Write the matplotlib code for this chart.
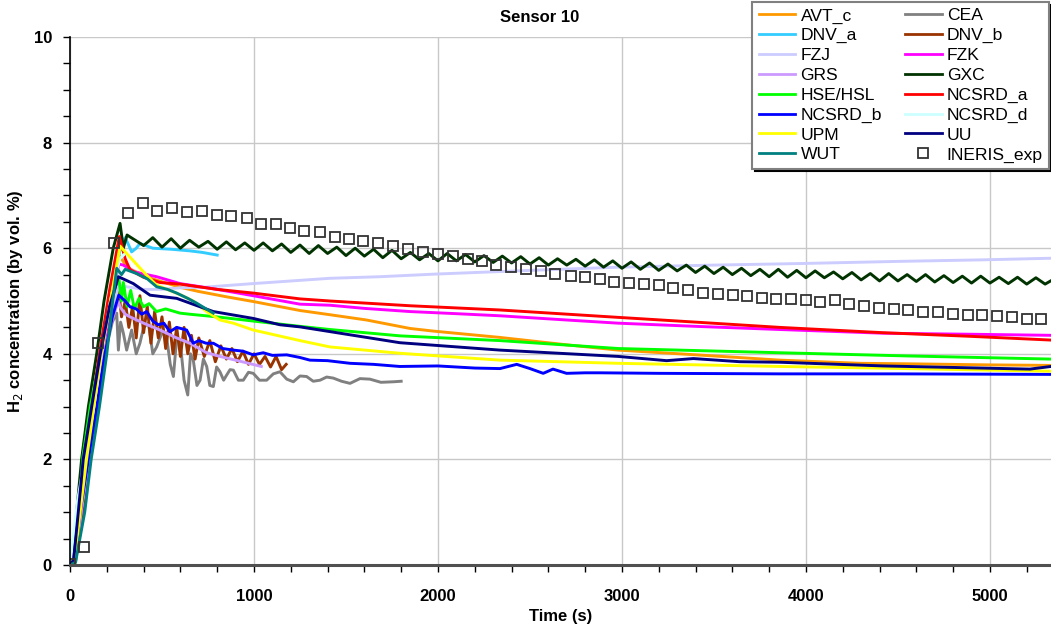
import numpy as np
import matplotlib
matplotlib.use("Agg")
import matplotlib.pyplot as plt
from matplotlib.ticker import MultipleLocator

plt.rcParams['font.family'] = ['Liberation Sans', 'DejaVu Sans']

# ---------------- data ----------------
avt_t = [0, 25, 60, 100, 140, 180, 220, 258, 300, 330, 420, 598, 700, 850, 996, 1250, 1413,
         1612, 1848, 1975, 2337, 2700, 2980, 3406, 3859, 4293, 4565, 5000, 5332]
avt_c = [0, 0.05, 1.0, 2.0, 3.0, 4.0, 5.0, 5.9, 5.7, 5.6, 5.45, 5.26, 5.18, 5.08, 4.99, 4.82, 4.74,
         4.64, 4.48, 4.43, 4.31, 4.17, 4.07, 3.98, 3.88, 3.82, 3.81, 3.79, 3.78]

cea_t = [0, 30, 70, 110, 150, 190, 230, 254, 263, 275, 290, 308, 335, 360, 380, 400, 426, 450, 471, 500,
         525, 545, 562, 580, 598, 620, 640, 655, 670, 690, 707, 725, 743, 760, 779, 797, 815, 835, 852, 870,
         888, 915, 942, 970, 996, 1030, 1069, 1105, 1141, 1178, 1214, 1250, 1286, 1322, 1359, 1395, 1431,
         1476, 1522, 1576, 1630, 1690, 1757, 1800]
cea_c = [0, 0.1, 0.9, 2.0, 3.0, 4.0, 4.6, 4.77, 4.07, 4.6, 4.39, 4.07, 4.45, 4.0, 4.20, 4.5, 4.58, 4.0, 4.13, 4.4,
         4.32, 3.8, 3.57, 4.3, 4.26, 3.5, 3.22, 4.0, 3.88, 3.4, 3.50, 3.9, 3.76, 3.4, 3.38, 3.75, 3.66, 3.5, 3.60, 3.7,
         3.69, 3.5, 3.50, 3.65, 3.63, 3.5, 3.50, 3.62, 3.66, 3.52, 3.47, 3.58, 3.57, 3.48, 3.50, 3.56, 3.54,
         3.48, 3.44, 3.53, 3.52, 3.46, 3.47, 3.48]

dnva_t = [0, 15, 45, 85, 130, 170, 230, 280, 300, 320, 335, 360, 380, 450, 550, 650, 720, 800]
dnva_c = [0, 0.05, 1.0, 2.0, 3.0, 4.0, 5.3, 6.1, 6.2, 6.05, 5.93, 6.0, 6.09, 6.0, 5.98, 5.95, 5.92, 5.87]

dnvb_t = [0, 30, 70, 105, 150, 190, 230, 262, 280, 300, 320, 340, 360, 380, 400, 420, 440, 460, 480, 500,
          520, 540, 560, 580, 600, 620, 640, 660, 680, 700, 730, 760, 790, 820, 850, 880, 910, 940, 970, 1000,
          1030, 1060, 1090, 1120, 1150, 1175]
dnvb_c = [0, 0.1, 1.0, 2.0, 3.1, 4.0, 4.8, 5.3, 4.7, 5.0, 4.5, 4.9, 4.3, 5.1, 4.4, 4.9, 4.2, 4.8, 4.3, 4.7,
          4.1, 4.6, 4.0, 4.5, 3.95, 4.5, 4.0, 4.35, 3.9, 4.3, 3.95, 4.25, 3.85, 4.15, 3.9, 4.1, 3.85, 4.05, 3.8, 4.0,
          3.8, 3.95, 3.75, 3.95, 3.7, 3.8]

fzj_t = [0, 30, 60, 100, 140, 185, 230, 265, 308, 400, 500, 598, 725, 996, 1413, 1685, 1987, 2500, 2978,
         3500, 3976, 4500, 4967, 5332]
fzj_c = [0, 0.05, 1.0, 2.0, 3.0, 4.0, 4.8, 5.3, 5.27, 5.22, 5.22, 5.25, 5.26, 5.33, 5.43, 5.46, 5.51, 5.58, 5.64,
         5.68, 5.71, 5.75, 5.78, 5.81]

fzk_t = [0, 20, 35, 60, 95, 140, 180, 225, 265, 290, 350, 471, 598, 800, 996, 1250, 1413, 1600, 1848, 2100,
         2337, 2700, 2980, 3400, 3859, 4418, 4900, 5332]
fzk_c = [0, 0.44, 0.3, 1.0, 2.0, 3.0, 4.0, 5.0, 5.7, 5.68, 5.55, 5.46, 5.33, 5.22, 5.10, 4.94, 4.92, 4.86, 4.80, 4.76,
         4.72, 4.64, 4.58, 4.52, 4.46, 4.39, 4.37, 4.35]

grs_t = [0, 30, 60, 100, 140, 185, 225, 262, 272, 300, 326, 400, 489, 580, 652, 743, 815, 900, 970, 1040]
grs_c = [0, 0.05, 1.0, 2.0, 3.0, 4.0, 4.6, 5.0, 4.89, 4.75, 4.70, 4.58, 4.45, 4.30, 4.20, 4.02, 3.95, 3.88, 3.82, 3.76]

gxc_t = [0, 20, 36, 63, 100, 145, 185, 235, 272, 290, 310] + list(range(400, 5351, 50))
gxc_c = [0, 0.05, 1.0, 2.0, 3.0, 4.0, 5.0, 6.0, 6.47, 6.0, 6.25,
         6.05, 6.20, 6.02, 6.18, 6.00, 6.15, 6.02, 6.13, 5.98, 6.12,
         5.97, 6.10, 5.96, 6.10, 5.95, 6.08, 5.92, 6.06, 5.90, 6.05,
         5.90, 6.02, 5.86, 6.00, 5.85, 5.98, 5.82, 5.96, 5.80, 5.92,
         5.78, 5.90, 5.76, 5.90, 5.76, 5.88, 5.74, 5.86, 5.73, 5.85,
         5.72, 5.84, 5.70, 5.82, 5.68, 5.80, 5.68, 5.79, 5.66, 5.78,
         5.64, 5.76, 5.62, 5.74, 5.60, 5.72, 5.58, 5.70, 5.57, 5.68,
         5.54, 5.66, 5.52, 5.64, 5.50, 5.62, 5.48, 5.60, 5.46, 5.60,
         5.45, 5.58, 5.44, 5.57, 5.44, 5.55, 5.42, 5.54, 5.40, 5.52,
         5.38, 5.52, 5.38, 5.50, 5.37, 5.50, 5.36, 5.48, 5.35, 5.47,
         5.34, 5.47, 5.34, 5.45, 5.33, 5.45, 5.32, 5.44, 5.32, 5.42]

hse_t = [0, 30, 50, 55, 70, 110, 165, 215, 265, 280, 290, 310, 330, 350, 375, 399, 430, 470, 520, 598,
         650, 797, 996, 1250, 1413, 1793, 2337, 2980, 3859, 4547, 5332]
hse_c = [0, 0.05, 1.3, 1.3, 2.05, 3.0, 4.0, 5.0, 5.45, 5.0, 5.35, 4.9, 5.2, 4.85, 5.05, 4.89, 4.95, 4.8, 4.85, 4.77,
         4.75, 4.70, 4.62, 4.52, 4.46, 4.34, 4.25, 4.10, 4.02, 3.96, 3.90]

ncsa_t = [0, 25, 50, 75, 120, 160, 215, 268, 300, 326, 400, 489, 598, 800, 996, 1250, 1413, 1848, 2337,
          2980, 3400, 3859, 4418, 4900, 5332]
ncsa_c = [0, 0.1, 1.0, 2.0, 3.0, 4.0, 5.2, 6.22, 5.8, 5.59, 5.45, 5.35, 5.32, 5.22, 5.15, 5.04, 5.00, 4.91, 4.83,
          4.69, 4.60, 4.50, 4.40, 4.33, 4.26]

ncsb_t = [0, 25, 55, 100, 145, 190, 230, 265, 300, 326, 360, 390, 417, 450, 480, 510, 543, 580, 634, 670,
          700, 740, 779, 830, 888, 940, 996, 1050, 1100, 1178, 1250, 1304, 1400, 1522, 1650, 1793, 2000, 2200,
          2337, 2428, 2500, 2572, 2625, 2699, 2800, 2880, 3200, 3859, 4500, 5332]
ncsb_c = [0, 0.1, 1.0, 2.0, 3.0, 4.0, 4.7, 5.11, 5.0, 4.89, 4.85, 4.75, 4.80, 4.62, 4.55, 4.58, 4.42, 4.50, 4.45, 4.20,
          4.25, 4.20, 4.20, 4.10, 4.07, 4.05, 3.98, 4.02, 3.97, 3.98, 3.93, 3.88, 3.87, 3.82, 3.80, 3.76, 3.77, 3.73,
          3.72, 3.80, 3.72, 3.63, 3.71, 3.63, 3.64, 3.64, 3.63, 3.62, 3.62, 3.61]

ncsd_t = [0, 10, 40, 80, 130, 170, 220, 270, 300]
ncsd_c = [0, 0.3, 1.2, 2.0, 3.0, 4.0, 5.0, 5.8, 5.9]

upm_t = [0, 25, 55, 90, 130, 170, 220, 272, 308, 400, 471, 543, 598, 670, 743, 815, 888, 996, 1250, 1413,
         1793, 2337, 2980, 3859, 4547, 5332]
upm_c = [0, 0.1, 1.0, 2.0, 3.0, 4.0, 5.0, 6.04, 5.9, 5.55, 5.3, 5.2, 5.12, 5.0, 4.8, 4.64, 4.58, 4.45, 4.25, 4.13,
         4.01, 3.88, 3.82, 3.76, 3.72, 3.67]

uu_t = [0, 20, 45, 72, 118, 165, 215, 263, 344, 435, 580, 779, 996, 1141, 1250, 1413, 1793, 2337, 2980,
        3243, 3388, 3641, 3859, 4420, 4819, 5217, 5332]
uu_c = [0, 0.1, 1.0, 2.0, 3.0, 4.0, 4.9, 5.46, 5.33, 5.11, 5.05, 4.80, 4.67, 4.55, 4.51, 4.42, 4.21, 4.07, 3.95,
        3.87, 3.91, 3.85, 3.84, 3.77, 3.74, 3.71, 3.76]

wut_t = [0, 30, 80, 115, 160, 200, 232, 254, 280, 300, 362, 420, 471, 530, 580, 640, 688, 740, 779]
wut_c = [0, 0.05, 1.0, 2.0, 3.0, 4.0, 5.0, 5.62, 5.5, 5.6, 5.52, 5.42, 5.27, 5.22, 5.15, 5.05, 4.96, 4.85, 4.77]

exp_t = [0, 78, 154, 239, 317, 397, 475, 554, 636, 717, 797, 875, 960, 1038, 1118, 1196, 1274, 1359, 1440,
         1518, 1594, 1676, 1757, 1836, 1917, 1998, 2079, 2161, 2242, 2316, 2398, 2478, 2560, 2636, 2723,
         2799, 2880, 2956, 3036, 3118, 3199, 3277, 3357, 3438, 3520, 3601, 3678, 3759, 3835, 3919, 3998,
         4077, 4158, 4234, 4315, 4397, 4476, 4555, 4639, 4717, 4797, 4880, 4959, 5036, 5122, 5203, 5277]
exp_c = [0.02, 0.34, 4.2, 6.09, 6.66, 6.86, 6.70, 6.77, 6.69, 6.70, 6.63, 6.61, 6.57, 6.45, 6.45, 6.38, 6.33,
         6.31, 6.22, 6.17, 6.14, 6.09, 6.05, 5.98, 5.93, 5.89, 5.85, 5.80, 5.75, 5.69, 5.64, 5.60, 5.57, 5.52,
         5.47, 5.46, 5.42, 5.36, 5.34, 5.32, 5.31, 5.24, 5.20, 5.16, 5.13, 5.12, 5.10, 5.06, 5.04, 5.03, 5.01,
         4.99, 5.02, 4.94, 4.90, 4.86, 4.84, 4.83, 4.80, 4.80, 4.75, 4.73, 4.73, 4.72, 4.69, 4.65, 4.65]

series = [
    ("AVT_c", avt_t, avt_c, "#FF9900"),
    ("CEA", cea_t, cea_c, "#808080"),
    ("DNV_a", dnva_t, dnva_c, "#33CCFF"),
    ("DNV_b", dnvb_t, dnvb_c, "#993300"),
    ("FZJ", fzj_t, fzj_c, "#CCCCFF"),
    ("FZK", fzk_t, fzk_c, "#FF00FF"),
    ("GRS", grs_t, grs_c, "#CC99FF"),
    ("GXC", gxc_t, gxc_c, "#003300"),
    ("HSE/HSL", hse_t, hse_c, "#00FF00"),
    ("NCSRD_a", ncsa_t, ncsa_c, "#FF0000"),
    ("NCSRD_b", ncsb_t, ncsb_c, "#0000FF"),
    ("NCSRD_d", ncsd_t, ncsd_c, "#CCFFFF"),
    ("UPM", upm_t, upm_c, "#FFFF00"),
    ("UU", uu_t, uu_c, "#000080"),
    ("WUT", wut_t, wut_c, "#008080"),
]

# ---------------- figure ----------------
W, H = 1051, 635
fig = plt.figure(figsize=(W / 100, H / 100), dpi=100)
ax = fig.add_axes([70 / W, (H - 565) / H, (W - 70) / W, 528 / H])

handles = {}
for name, t, c, col in series:
    ln, = ax.plot(t, c, color=col, lw=2.1, solid_joinstyle='round', label=name)
    handles[name] = ln
exp_ln, = ax.plot(exp_t, exp_c, ls='none', marker='s', ms=7.3, mfc='none', mec='#333333',
                  mew=1.3, label="INERIS_exp")
handles["INERIS_exp"] = exp_ln

ax.set_xlim(0, 5332)
ax.set_ylim(0, 10)
ax.xaxis.set_major_locator(MultipleLocator(1000))
ax.xaxis.set_minor_locator(MultipleLocator(200))
ax.yaxis.set_major_locator(MultipleLocator(2))
ax.yaxis.set_minor_locator(MultipleLocator(0.5))
ax.grid(True, which='major', color='#C8C8C8', lw=1.0)
ax.set_axisbelow(True)

for s in ('top', 'right'):
    ax.spines[s].set_visible(False)
ax.spines['left'].set_color('black')
ax.spines['left'].set_linewidth(1.2)
ax.spines['bottom'].set_color('#505050')
ax.spines['bottom'].set_linewidth(2.2)
ax.spines['bottom'].set_zorder(5)

ax.tick_params(axis='both', which='both', direction='out', length=5, width=1, color='black')
ax.tick_params(axis='x', pad=12, labelsize=12)
ax.tick_params(axis='y', pad=8, labelsize=12)
for lab in ax.get_xticklabels() + ax.get_yticklabels():
    lab.set_fontweight('bold')

ax.set_xlabel("Time (s)", fontsize=12, fontweight='bold', labelpad=4)
ax.set_ylabel("H$_2$ concentration (by vol. %)", fontsize=12, fontweight='bold', labelpad=6)
fig.text(540 / W, 1 - 18 / H, "Sensor 10", ha='center', va='center', fontsize=12, fontweight='bold')

order = ["AVT_c", "DNV_a", "FZJ", "GRS", "HSE/HSL", "NCSRD_b", "UPM", "WUT",
         "CEA", "DNV_b", "FZK", "GXC", "NCSRD_a", "NCSRD_d", "UU", "INERIS_exp"]
leg = fig.legend([handles[k] for k in order], order, ncol=2, loc='upper right',
                 bbox_to_anchor=(1049 / W, 1 - 2 / H), fontsize=12.6, frameon=True,
                 fancybox=False, shadow={'color': 'black', 'alpha': 1.0},
                 labelspacing=0.26, handlelength=2.1, handletextpad=0.3, columnspacing=1.3,
                 borderpad=0.35, borderaxespad=0)
leg.get_frame().set_edgecolor('#808080')
leg.get_frame().set_linewidth(1.5)
for h in leg.legend_handles:
    if hasattr(h, 'set_linewidth') and h.get_marker() in (None, 'None', ''):
        h.set_linewidth(2.0)

fig.savefig("out.png", dpi=100)
